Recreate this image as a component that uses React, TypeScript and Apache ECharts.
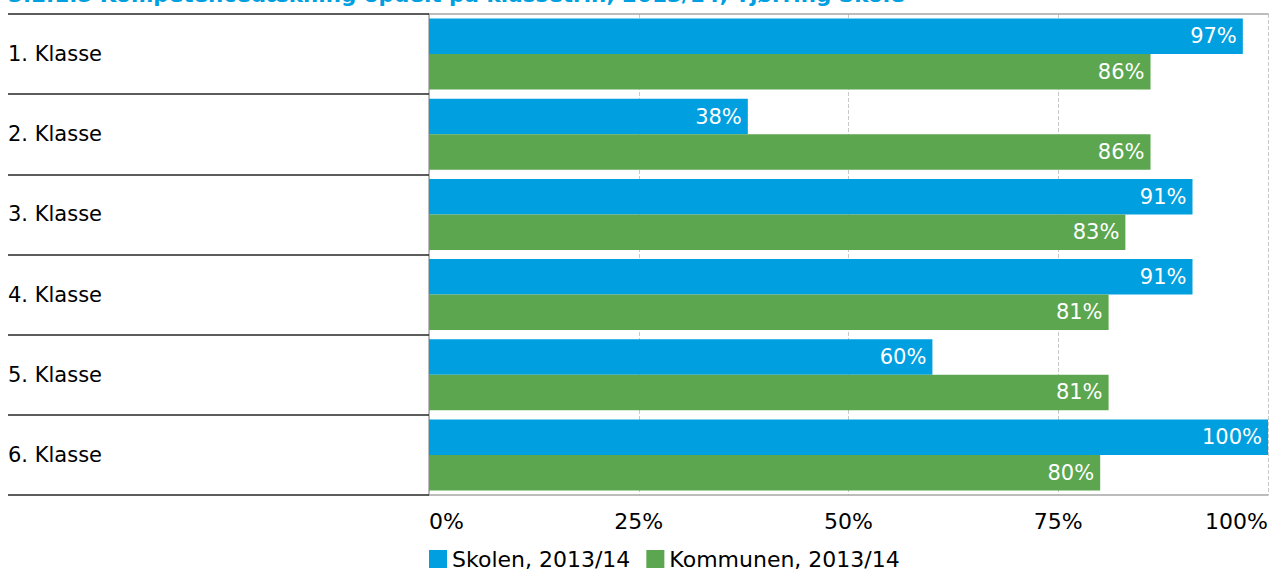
import React, { useEffect, useRef } from "react";
import * as echarts from "echarts";

const categories = ["1. Klasse", "2. Klasse", "3. Klasse", "4. Klasse", "5. Klasse", "6. Klasse"];
const skolen = [97, 38, 91, 91, 60, 100];
const kommunen = [86, 86, 83, 81, 81, 80];
const seriesNames = ["Skolen, 2013/14", "Kommunen, 2013/14"];
const title = "3.2.1.5 Kompetencedækning opdelt på klassetrin, 2013/14, Tjørring Skole";

const FONT = "'DejaVu Sans', Verdana, sans-serif";
const BLUE = "#009fe0";
const GREEN = "#5ba64f";

export default function App() {
  const ref = useRef<HTMLDivElement>(null);
  useEffect(() => {
    document.body.style.margin = "0";
    const chart = echarts.init(ref.current!, null, { renderer: "svg" });
    const label = {
      show: true,
      position: "insideRight",
      distance: 6,
      color: "#ffffff",
      fontSize: 21,
      fontFamily: FONT,
      formatter: (p: any) => `${p.value}%`,
    };
    chart.setOption({
      animation: false,
      textStyle: { fontFamily: FONT },
      graphic: [
        {
          type: "text",
          left: 8,
          top: -17,
          style: {
            text: title,
            fill: BLUE,
            font: `bold 21.5px ${FONT}`,
          },
        },
      ],
      legend: {
        left: 429,
        top: 548,
        padding: 0,
        icon: "rect",
        itemWidth: 18,
        itemHeight: 18,
        itemGap: 16,
        textStyle: { fontSize: 22, color: "#000", fontFamily: FONT },
        data: seriesNames,
      },
      grid: { left: 429, width: 842, top: 14, height: 481, containLabel: false },
      xAxis: [
        {
          type: "value",
          min: 0,
          max: 100,
          interval: 25,
          position: "bottom",
          axisLine: { show: true, lineStyle: { color: "#a6a6a6", width: 1.5 } },
          axisTick: { show: false },
          axisLabel: {
            formatter: "{value}%",
            fontSize: 22,
            color: "#000",
            margin: 15,
            fontFamily: FONT,
            alignMinLabel: "left",
            alignMaxLabel: "right",
          },
          splitLine: { show: true, lineStyle: { color: "#c8c8c8", type: "dashed", width: 1 } },
        },
        {
          type: "value",
          min: 0,
          max: 100,
          interval: 25,
          position: "top",
          axisLine: { show: true, lineStyle: { color: "#a6a6a6", width: 1.5 } },
          axisTick: { show: false },
          axisLabel: { show: false },
          splitLine: { show: false },
        },
      ],
      yAxis: {
        type: "category",
        inverse: true,
        data: categories,
        axisLine: { show: true, lineStyle: { color: "#a6a6a6", width: 1.5 } },
        axisTick: { show: true, length: 421, lineStyle: { color: "#262626", width: 1.5 } },
        axisLabel: {
          align: "left",
          margin: 421,
          fontSize: 21,
          color: "#000",
          fontFamily: FONT,
        },
        splitLine: { show: false },
      },
      series: [
        {
          name: seriesNames[0],
          type: "bar",
          data: skolen,
          itemStyle: { color: BLUE },
          barGap: "0%",
          barCategoryGap: "11.5%",
          label,
        },
        {
          name: seriesNames[1],
          type: "bar",
          data: kommunen,
          itemStyle: { color: GREEN },
          barGap: "0%",
          barCategoryGap: "11.5%",
          label,
        },
      ],
    });
    return () => chart.dispose();
  }, []);
  return <div ref={ref} style={{ width: 1271, height: 571, position: "absolute", left: 0, top: 0 }} />;
}
